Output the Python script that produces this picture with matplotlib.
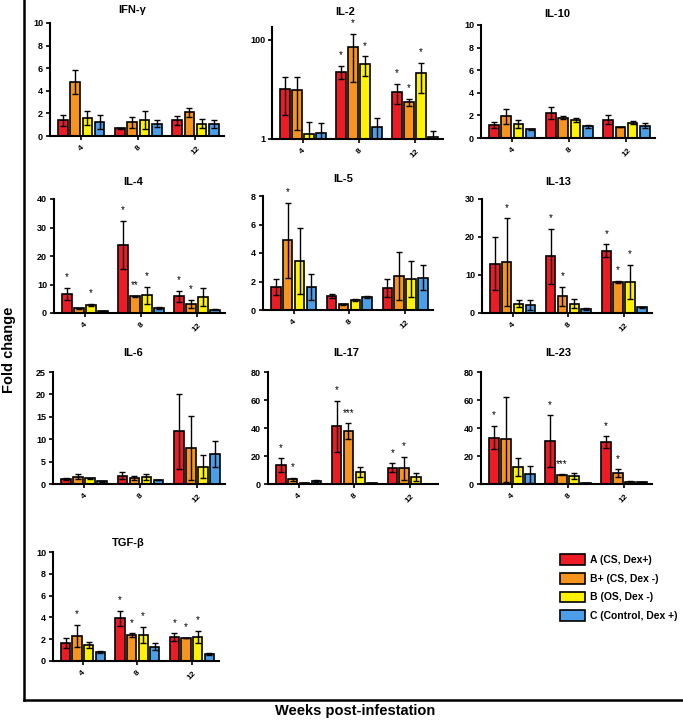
import numpy as np
import matplotlib.pyplot as plt
from matplotlib.patches import Patch
from matplotlib.lines import Line2D

plt.rcParams['font.family'] = ['Liberation Sans', 'DejaVu Sans']
plt.rcParams['font.weight'] = 'bold'

weeks = ['4', '8', '12']
groups = ['A (CS, Dex+)', 'B+ (CS, Dex -)', 'B (OS, Dex -)', 'C (Control, Dex +)']
colors = ['#ED1C24', '#F7941D', '#FFF200', '#4A9FE8']

# rows = groups (A, B+, B, C), columns = weeks (4, 8, 12)
ifng_mean = [[1.4, 0.7, 1.4], [4.8, 1.2, 2.1], [1.6, 1.45, 1.1], [1.25, 1.1, 1.05]]
ifng_sd = [[0.5, 0.05, 0.4], [1.05, 0.5, 0.4], [0.6, 0.8, 0.4], [0.6, 0.3, 0.38]]
ifng_stars = [['', '', ''], ['', '', ''], ['', '', ''], ['', '', '']]

il2_mean = [[10.3, 22.7, 9.0], [9.5, 72, 5.6], [1.28, 32.4, 21.3], [1.32, 1.77, 1.1]]
il2_sd = [[7.2, 6.8, 4.0], [8.0, 58, 0.9], [0.9, 14, 13], [0.78, 0.92, 0.37]]
il2_stars = [['', '*', '*'], ['', '*', '*'], ['', '*', '*'], ['', '', '']]

il10_mean = [[1.15, 2.2, 1.62], [1.91, 1.79, 0.97], [1.26, 1.59, 1.35], [0.76, 1.03, 1.09]]
il10_sd = [[0.3, 0.5, 0.4], [0.65, 0.12, 0.02], [0.35, 0.17, 0.15], [0.06, 0.12, 0.24]]
il10_stars = [['', '', ''], ['', '', ''], ['', '', ''], ['', '', '']]

il4_mean = [[6.8, 23.8, 5.9], [1.65, 5.8, 3.3], [2.8, 6.2, 5.6], [0.6, 1.76, 1.2]]
il4_sd = [[2.1, 8.5, 1.9], [0.1, 0.2, 1.4], [0.5, 3.0, 3.1], [0.05, 0.3, 0.2]]
il4_stars = [['*', '*', '*'], ['', '**', '*'], ['*', '*', ''], ['', '', '']]

il5_mean = [[1.61, 0.98, 1.57], [4.89, 0.4, 2.39], [3.44, 0.7, 2.2], [1.61, 0.91, 2.27]]
il5_sd = [[0.57, 0.14, 0.63], [2.64, 0.02, 1.67], [2.3, 0.1, 1.26], [0.9, 0.09, 0.9]]
il5_stars = [['', '', ''], ['*', '', ''], ['', '', ''], ['', '', '']]

il13_mean = [[13.0, 14.9, 16.4], [13.4, 4.4, 8.1], [2.5, 2.5, 8.2], [2.1, 1.06, 1.5]]
il13_sd = [[7.0, 7.2, 1.7], [11.5, 2.5, 0.3], [0.9, 1.2, 4.4], [1.2, 0.2, 0.1]]
il13_stars = [['', '*', '*'], ['*', '*', '*'], ['', '', '*'], ['', '', '']]

il6_mean = [[1.18, 1.85, 11.8], [1.63, 1.33, 8.1], [1.26, 1.55, 3.9], [0.6, 0.9, 6.65]]
il6_sd = [[0.2, 0.75, 8.4], [0.6, 0.5, 7.1], [0.1, 0.65, 2.6], [0.05, 0.1, 2.9]]
il6_stars = [['', '', ''], ['', '', ''], ['', '', ''], ['', '', '']]

il17_mean = [[13.5, 41.3, 11.6], [3.3, 37.8, 11.2], [0.7, 8.55, 5.0], [2.1, 0.7, 0.0]]
il17_sd = [[4.8, 18.1, 3.1], [1.2, 5.5, 8.0], [0.1, 3.6, 2.6], [0.7, 0.1, 0.0]]
il17_stars = [['*', '*', '*'], ['*', '***', '*'], ['', '', ''], ['', '', '']]

il23_mean = [[33.2, 30.6, 29.7], [31.8, 6.65, 7.8], [12.3, 5.7, 1.7], [6.9, 0.7, 1.2]]
il23_sd = [[8.3, 18.5, 4.3], [30.6, 0.2, 2.6], [6.4, 1.9, 0.7], [5.9, 0.1, 0.1]]
il23_stars = [['*', '*', '*'], ['', '***', '*'], ['', '', ''], ['', '', '']]

tgfb_mean = [[1.62, 3.9, 2.16], [2.29, 2.35, 2.13], [1.5, 2.38, 2.23], [0.8, 1.31, 0.64]]
tgfb_sd = [[0.45, 0.73, 0.37], [1.03, 0.18, 0.02], [0.27, 0.73, 0.54], [0.08, 0.3, 0.06]]
tgfb_stars = [['', '*', '*'], ['*', '*', '*'], ['', '*', '*'], ['', '', '']]

W, H = 683, 720
fig = plt.figure(figsize=(W / 100, H / 100), dpi=100)

# name, mean, sd, stars, ymax, ystep, axes box in px (l, t, r, b), title pos px
panels = [
    ('IFN-γ', ifng_mean, ifng_sd, ifng_stars, 10, 2, (50, 23, 224, 136), (132, 10)),
    ('IL-2', il2_mean, il2_sd, il2_stars, None, None, (272, 27, 443, 139), (345, 12)),
    ('IL-10', il10_mean, il10_sd, il10_stars, 10, 2, (481, 25, 655, 138), (557, 14)),
    ('IL-4', il4_mean, il4_sd, il4_stars, 40, 10, (54, 199, 225, 313), (133, 182)),
    ('IL-5', il5_mean, il5_sd, il5_stars, 8, 2, (263, 196, 433, 310), (343, 179)),
    ('IL-13', il13_mean, il13_sd, il13_stars, 30, 10, (482, 199, 652, 313), (558, 182)),
    ('IL-6', il6_mean, il6_sd, il6_stars, 25, 5, (53, 372, 225, 484), (133, 353)),
    ('IL-17', il17_mean, il17_sd, il17_stars, 80, 20, (268, 372, 438, 484), (346, 353)),
    ('IL-23', il23_mean, il23_sd, il23_stars, 80, 20, (481, 372, 652, 484), (558, 353)),
    ('TGF-β', tgfb_mean, tgfb_sd, tgfb_stars, 10, 2, (53, 552, 219, 661), (128, 543)),
]

offs = [-0.32, -0.107, 0.107, 0.32]
x = np.arange(len(weeks))

for name, mean, sd, stars, ymax, ystep, box, tpos in panels:
    l, t, r, b = box
    ax = fig.add_axes([l / W, 1 - b / H, (r - l) / W, (b - t) / H])
    if ymax is None:
        ax.set_yscale('log')
    for g in range(4):
        xs = x + offs[g]
        ax.bar(xs, mean[g], width=0.17, color=colors[g], edgecolor='black', lw=1.2, zorder=2)
        ax.errorbar(xs, mean[g], yerr=sd[g], fmt='none', ecolor='black', elinewidth=1,
                    capsize=2.2, capthick=1, zorder=3)
        for i in range(3):
            if stars[g][i]:
                ax.annotate(stars[g][i], (xs[i], mean[g][i] + sd[g][i]), xytext=(0, 4),
                            textcoords='offset points', ha='center', va='bottom',
                            fontsize=7, fontweight='normal', annotation_clip=False)
    if ymax is None:
        ax.set_ylim(1, 180)
        ax.set_yticks([1, 100])
        ax.set_yticklabels(['1', '100'])
        ax.minorticks_off()
    else:
        ax.set_ylim(0, ymax)
        ax.set_yticks(np.arange(0, ymax + 0.1, ystep))
    ax.set_xlim(-0.55, 2.5)
    ax.set_xticks(x)
    ax.set_xticklabels(weeks, rotation=45, ha='center', fontsize=6)
    ax.tick_params(direction='out', length=3, width=1.2, labelsize=6.5, pad=2)
    ax.tick_params(axis='x', labelsize=6, pad=3)
    for s in ['top', 'right']:
        ax.spines[s].set_visible(False)
    for s in ['left', 'bottom']:
        ax.spines[s].set_linewidth(1.5)
    fig.text(tpos[0] / W, 1 - tpos[1] / H, name, ha='center', va='center',
             fontsize=8, fontweight='bold')

# outer frame
fig.add_artist(Line2D([24 / W, 24 / W], [1, 1 - 700 / H], color='black', lw=1.8))
fig.add_artist(Line2D([24 / W, 1], [1 - 700 / H, 1 - 700 / H], color='black', lw=1.8))

fig.text(9 / W, 1 - 350 / H, 'Fold change', rotation=90, ha='center', va='center',
         fontsize=10.5, fontweight='bold')
fig.text(355 / W, 1 - 711 / H, 'Weeks post-infestation', ha='center', va='center',
         fontsize=10.5, fontweight='bold')

handles = [Patch(facecolor=c, edgecolor='black', lw=1.2) for c in colors]
fig.legend(handles, groups, loc='upper left', bbox_to_anchor=(555 / W, 1 - 549 / H),
           frameon=False, borderpad=0, handlelength=2.4, handleheight=1.2,
           labelspacing=0.75, handletextpad=0.5, prop={'size': 7.5, 'weight': 'bold'})

fig.savefig('out.png', dpi=100)
